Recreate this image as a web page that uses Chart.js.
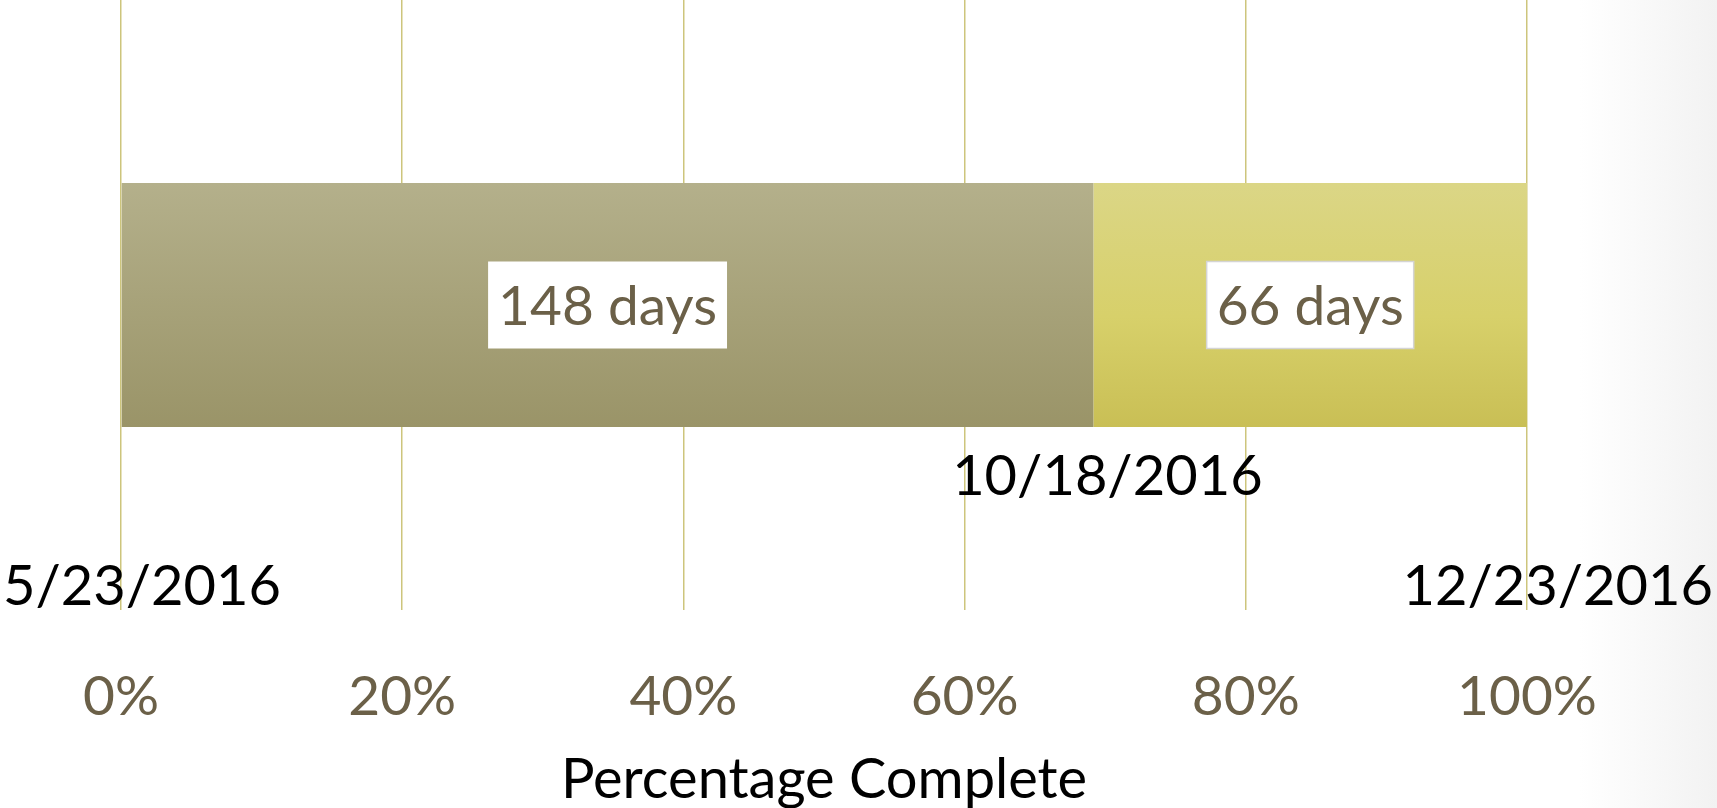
<!DOCTYPE html>
<html>
<head>
<meta charset="utf-8">
<script src="https://cdn.jsdelivr.net/npm/chart.js@4.4.1/dist/chart.umd.min.js"></script>
<style>
html,body{margin:0;padding:0;}
body{width:1717px;height:808px;overflow:hidden;background:linear-gradient(to right,#fff 0,#fff 92%,#f2f2f2 100%);}
#wrap{position:relative;width:1717px;height:808px;}
</style>
</head>
<body>
<div id="wrap"><canvas id="chart"></canvas></div>
<script>
// data
const categories = ['Project'];
const seriesNames = ['Elapsed', 'Remaining'];
const daysDone = [148];
const daysLeft = [66];
const dateLabels = ['5/23/2016', '10/18/2016', '12/23/2016'];
const dateDays = [0, 148, 214];
const tickStep = 20;

const total = daysDone[0] + daysLeft[0];
const pctDone = daysDone.map(v => v / total * 100);
const pctLeft = daysLeft.map(v => v / total * 100);

const FONT = 'Lato, "Open Sans", sans-serif';
const TEXTCOL = '#6b6048';
const BARPCT = 0.4;

function makeGradient(c, stops, fallback) {
    const area = c.chart.chartArea;
    if (!area) return fallback;
    const h = area.bottom - area.top;
    const y0 = area.top + h * (1 - BARPCT) / 2;
    const y1 = area.bottom - h * (1 - BARPCT) / 2;
    const g = c.chart.ctx.createLinearGradient(0, y0, 0, y1);
    stops.forEach(s => g.addColorStop(s[0], s[1]));
    return g;
}

// white boxes with "xx days" in the middle of each bar
const boxLabels = {
    id: 'boxLabels',
    afterDatasetsDraw(chart) {
        const ctx = chart.ctx;
        const raw = [daysDone, daysLeft];
        ctx.save();
        ctx.font = '55px ' + FONT;
        ctx.textAlign = 'center';
        ctx.textBaseline = 'middle';
        chart.data.datasets.forEach((ds, i) => {
            const meta = chart.getDatasetMeta(i);
            meta.data.forEach((el, j) => {
                const txt = raw[i][j] + ' days';
                const cx = (el.x + el.base) / 2;
                const cy = el.y;
                const w = ctx.measureText(txt).width + 20;
                const h = 87;
                ctx.fillStyle = '#ffffff';
                ctx.fillRect(cx - w / 2, cy - h / 2, w, h);
                if (i == 1) {
                    ctx.strokeStyle = '#d4d4d4';
                    ctx.lineWidth = 1.5;
                    ctx.strokeRect(cx - w / 2, cy - h / 2, w, h);
                }
                ctx.fillStyle = TEXTCOL;
                ctx.fillText(txt, cx, cy + 2);
            });
        });
        ctx.restore();
    }
};

// the date labels under the bar
const dateMarks = {
    id: 'dateMarks',
    afterDatasetsDraw(chart) {
        const ctx = chart.ctx;
        const xs = chart.scales.x;
        const bar = chart.getDatasetMeta(0).data[0];
        const barBottom = bar.y + bar.height / 2;
        const shift = [18, 14, 33];
        ctx.save();
        ctx.font = '56px ' + FONT;
        ctx.fillStyle = '#000000';
        ctx.textAlign = 'center';
        ctx.textBaseline = 'middle';
        for (var i = 0; i < dateLabels.length; i++) {
            const w = ctx.measureText(dateLabels[i]).width;
            let x = xs.getPixelForValue(dateDays[i] / total * 100) + shift[i];
            x = Math.max(x, w / 2 + 3);
            x = Math.min(x, chart.width - w / 2 - 4);
            const y = (i == 1) ? barBottom + 50 : barBottom + 160;
            ctx.fillText(dateLabels[i], x, y);
        }
        ctx.restore();
    }
};

new Chart(document.getElementById('chart'), {
    type: 'bar',
    data: {
        labels: categories,
        datasets: [{
            label: seriesNames[0],
            data: pctDone,
            backgroundColor: c => makeGradient(c, [[0, '#b4b08b'], [1, '#9a9468']], '#a8a47b'),
            borderWidth: 0,
            barPercentage: BARPCT,
            categoryPercentage: 1
        }, {
            label: seriesNames[1],
            data: pctLeft,
            backgroundColor: c => makeGradient(c, [[0, '#dbd686'], [0.55, '#d7d06a'], [1, '#c9bf55']], '#d5ce6c'),
            borderWidth: 0,
            barPercentage: BARPCT,
            categoryPercentage: 1
        }]
    },
    options: {
        indexAxis: 'y',
        responsive: true,
        maintainAspectRatio: false,
        animation: false,
        layout: { padding: { left: 121, right: 190, top: 0, bottom: 0 } },
        plugins: {
            legend: { display: false },
            tooltip: { enabled: false }
        },
        scales: {
            x: {
                stacked: true,
                min: 0,
                max: 100,
                border: { display: false },
                grid: { color: '#cdc57c', lineWidth: 1.5, drawTicks: false },
                ticks: {
                    stepSize: tickStep,
                    padding: 60,
                    color: TEXTCOL,
                    font: { family: FONT, size: 55, lineHeight: 1 },
                    callback: v => v + '%'
                },
                title: {
                    display: true,
                    text: 'Percentage Complete',
                    color: '#000000',
                    font: { family: FONT, size: 56, lineHeight: 1 },
                    // tick padding is reserved twice by the scale, so pull the title box back up
                    padding: { top: -33, bottom: 0 }
                }
            },
            y: {
                stacked: true,
                display: false
            }
        }
    },
    plugins: [boxLabels, dateMarks]
});
</script>
</body>
</html>
